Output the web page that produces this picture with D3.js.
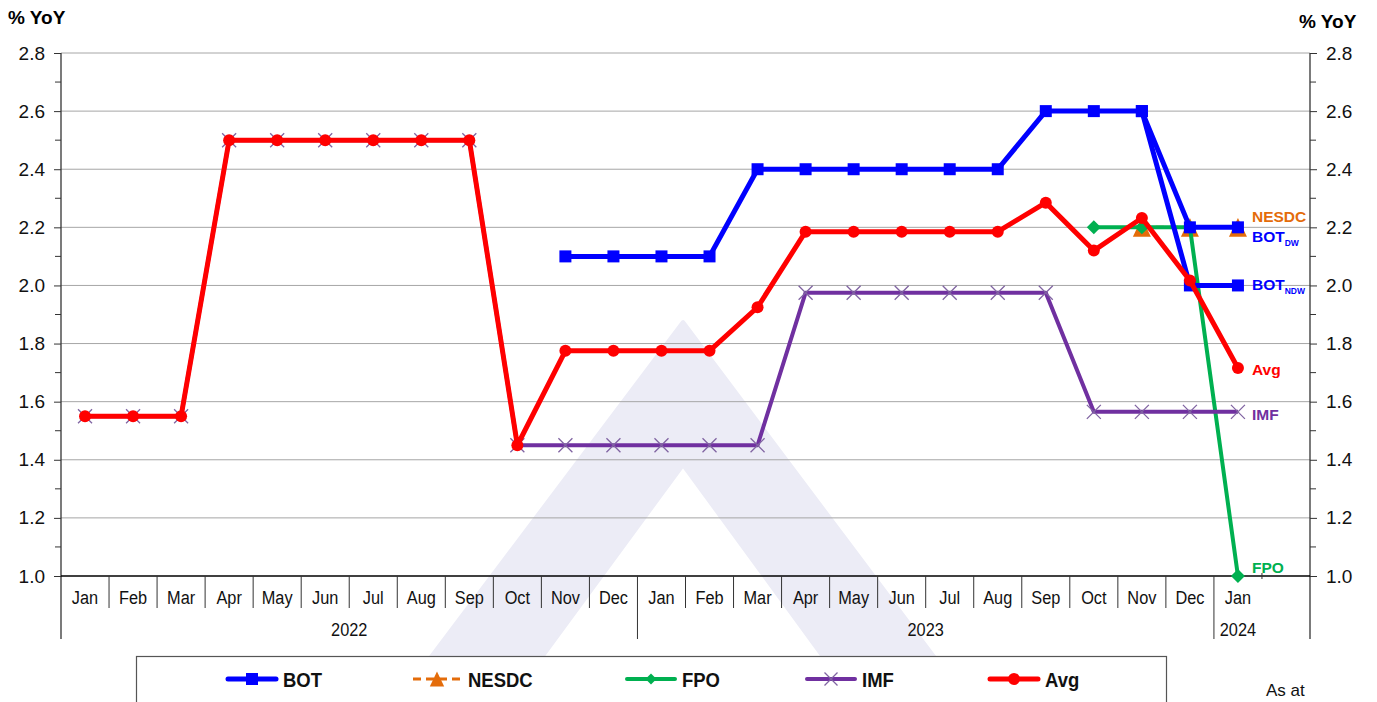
<!DOCTYPE html>
<html>
<head>
<meta charset="utf-8">
<script src="https://cdn.jsdelivr.net/npm/d3@7"></script>
<style>
  body { margin: 0; background: #fff; }
  svg { display: block; font-family: "Liberation Sans", Arial, sans-serif; }
</style>
</head>
<body>
<div id="chart"></div>
<script>
// months Jan 2022 .. Jan 2024 (plus one empty slot at the end)
var months = ["Jan","Feb","Mar","Apr","May","Jun","Jul","Aug","Sep","Oct","Nov","Dec",
              "Jan","Feb","Mar","Apr","May","Jun","Jul","Aug","Sep","Oct","Nov","Dec",
              "Jan",""];
var years = [{label: "2022", from: 0, to: 11}, {label: "2023", from: 12, to: 23}, {label: "2024", from: 24, to: 24}];
var yTicks = [1.0, 1.2, 1.4, 1.6, 1.8, 2.0, 2.2, 2.4, 2.6, 2.8];

var N = null;
var bot    = [N,N,N,N,N,N,N,N,N,N,2.1,2.1, 2.1,2.1,2.4,2.4,2.4,2.4,2.4,2.4,2.6,2.6,2.6,2.2, 2.2];
var botNdw = [N,N,N,N,N,N,N,N,N,N,N,N, N,N,N,N,N,N,N,N,N,N,2.6,2.0, 2.0];
var nesdc  = [N,N,N,N,N,N,N,N,N,N,N,N, N,N,N,N,N,N,N,N,N,N,2.2,2.2, 2.2];
var fpo    = [N,N,N,N,N,N,N,N,N,N,N,N, N,N,N,N,N,N,N,N,N,2.2,2.2,2.2, 1.0];
var imf    = [1.55,1.55,1.55,2.5,2.5,2.5,2.5,2.5,2.5,1.45,1.45,1.45, 1.45,1.45,1.45,1.975,1.975,1.975,1.975,1.975,1.975,1.565,1.565,1.565, 1.565];
var avg    = [1.55,1.55,1.55,2.5,2.5,2.5,2.5,2.5,2.5,1.45,1.775,1.775, 1.775,1.775,1.925,2.185,2.185,2.185,2.185,2.185,2.285,2.12,2.232,2.017, 1.716];

var W = 1377, H = 702;
var pLeft = 61, pRight = 1310, pTop = 53, pBottom = 576;

var svg = d3.select("#chart").append("svg").attr("width", W).attr("height", H);

var x = d3.scaleBand().domain(d3.range(months.length)).range([pLeft, pRight]).padding(0);
var y = d3.scaleLinear().domain([1.0, 2.8]).range([pBottom, pTop]);
var cx = function(i){ return x(i) + x.bandwidth() / 2; };

// watermark
var wm = "M683,322 L397,702 L509,702 L683,465 L856,702 L968,702 Z";
svg.append("path").attr("d", wm).attr("fill", "#ececf6").attr("stroke", "#ececf6").attr("stroke-width", 4).attr("stroke-linejoin", "round");

// gridlines
svg.append("g").selectAll("line").data(yTicks.slice(1)).enter().append("line")
  .attr("x1", pLeft).attr("x2", pRight)
  .attr("y1", function(d){ return y(d); }).attr("y2", function(d){ return y(d); })
  .attr("stroke", "#a6a6a6").attr("stroke-width", 1);

// left and right axes
var yAxisL = d3.axisLeft(y).tickValues(yTicks).tickFormat(d3.format(".1f")).tickSize(7).tickPadding(9);
var yAxisR = d3.axisRight(y).tickValues(yTicks).tickFormat(d3.format(".1f")).tickSize(7).tickPadding(9);
var minor = [1.1, 1.3, 1.5, 1.7, 1.9, 2.1, 2.3, 2.5, 2.7];

function styleAxis(g) {
  g.select(".domain").remove();
  g.selectAll(".tick line").attr("stroke", "#333");
  g.selectAll(".tick text").attr("font-size", 19).attr("fill", "#111")
    .attr("font-family", "Liberation Sans, Arial, sans-serif");
}
svg.append("g").attr("transform", "translate(" + pLeft + ",0)").call(yAxisL).call(styleAxis);
svg.append("g").attr("transform", "translate(" + pRight + ",0)").call(yAxisR).call(styleAxis);

svg.append("g").selectAll("line").data(minor).enter().append("line")
  .attr("x1", pLeft - 6).attr("x2", pLeft).attr("y1", function(d){ return y(d); }).attr("y2", function(d){ return y(d); })
  .attr("stroke", "#333");
svg.append("g").selectAll("line").data(minor).enter().append("line")
  .attr("x1", pRight).attr("x2", pRight + 6).attr("y1", function(d){ return y(d); }).attr("y2", function(d){ return y(d); })
  .attr("stroke", "#333");

svg.append("line").attr("x1", pLeft).attr("x2", pLeft).attr("y1", pTop).attr("y2", 639).attr("stroke", "#333").attr("stroke-width", 1.3);
svg.append("line").attr("x1", pRight).attr("x2", pRight).attr("y1", pTop).attr("y2", 639).attr("stroke", "#333").attr("stroke-width", 1.3);
svg.append("line").attr("x1", pLeft).attr("x2", pRight).attr("y1", pBottom).attr("y2", pBottom).attr("stroke", "#000").attr("stroke-width", 1.5);

// month dividers
svg.append("g").selectAll("line").data(d3.range(1, 25)).enter().append("line")
  .attr("x1", function(i){ return x(i); }).attr("x2", function(i){ return x(i); })
  .attr("y1", pBottom).attr("y2", function(i){ return (i === 12 || i === 24) ? 639 : 608; })
  .attr("stroke", "#333").attr("stroke-width", 1);
svg.append("line").attr("x1", x(25)).attr("x2", x(25)).attr("y1", pBottom - 3).attr("y2", pBottom + 3).attr("stroke", "#333");

// condensed-looking category labels
svg.append("g").selectAll("text").data(months).enter().append("text")
  .attr("transform", function(d, i){ return "translate(" + cx(i) + ",604) scale(0.86,1)"; })
  .attr("text-anchor", "middle").attr("font-size", 19).attr("fill", "#111")
  .text(function(d){ return d; });

svg.append("g").selectAll("text").data(years).enter().append("text")
  .attr("transform", function(d){ return "translate(" + ((x(d.from) + x(d.to) + x.bandwidth()) / 2) + ",636) scale(0.86,1)"; })
  .attr("text-anchor", "middle").attr("font-size", 19).attr("fill", "#111")
  .text(function(d){ return d.label; });

// axis titles
svg.append("text").attr("x", 8).attr("y", 24).attr("font-size", 19).attr("font-weight", "bold").text("% YoY");
svg.append("text").attr("x", 1299).attr("y", 28).attr("font-size", 19).attr("font-weight", "bold").text("% YoY");

// series
var line = d3.line().defined(function(d){ return d !== null; })
  .x(function(d, i){ return cx(i); }).y(function(d){ return y(d); });

function pts(arr) {
  var out = [];
  arr.forEach(function(v, i){ if (v !== null) out.push({i: i, v: v}); });
  return out;
}

function marker(g, type, color, px, py, s) {
  if (type === "square") {
    g.append("rect").attr("x", px - s/2).attr("y", py - s/2).attr("width", s).attr("height", s).attr("fill", color);
  } else if (type === "circle") {
    g.append("circle").attr("cx", px).attr("cy", py).attr("r", s/2).attr("fill", color);
  } else if (type === "diamond") {
    g.append("path").attr("d", "M" + px + "," + (py - s/2) + "L" + (px + s/2) + "," + py + "L" + px + "," + (py + s/2) + "L" + (px - s/2) + "," + py + "Z").attr("fill", color);
  } else if (type === "triangle") {
    g.append("path").attr("d", "M" + px + "," + (py - s*0.62) + "L" + (px + s*0.6) + "," + (py + s*0.62) + "L" + (px - s*0.6) + "," + (py + s*0.62) + "Z").attr("fill", color);
  } else if (type === "x") {
    var r = s/2;
    g.append("path").attr("d", "M" + (px-r) + "," + (py-r) + "L" + (px+r) + "," + (py+r) + "M" + (px-r) + "," + (py+r) + "L" + (px+r) + "," + (py-r))
      .attr("stroke", color).attr("stroke-width", 1.3).attr("fill", "none");
  }
}

var series = [
  {name: "NESDC", data: nesdc, color: "#e46c0a", width: 3, dash: "8,6", mark: "triangle", size: 15},
  {name: "FPO", data: fpo, color: "#00b050", width: 4, dash: null, mark: "diamond", size: 14},
  {name: "BOT", data: bot, color: "#0000ff", width: 5, dash: null, mark: "square", size: 12},
  {name: "BOTNDW", data: botNdw, color: "#0000ff", width: 5, dash: null, mark: "square", size: 12},
  {name: "IMF", data: imf, color: "#7030a0", width: 4, dash: null, mark: "x", size: 14},
  {name: "Avg", data: avg, color: "#ff0000", width: 5, dash: null, mark: "circle", size: 12}
];

series.forEach(function(s){
  var g = svg.append("g");
  g.append("path").datum(s.data).attr("d", line).attr("fill", "none")
    .attr("stroke", s.color).attr("stroke-width", s.width)
    .attr("stroke-dasharray", s.dash).attr("stroke-linejoin", "round");
  pts(s.data).forEach(function(p){
    marker(g, s.mark, s.name === "IMF" ? "#8064a2" : s.color, cx(p.i), y(p.v), s.size);
  });
});

// end labels
var lx = cx(24) + 14;
function endLabel(txt, sub, color, yy) {
  var t = svg.append("text").attr("x", lx).attr("y", yy).attr("font-size", 15.5)
    .attr("font-weight", "bold").attr("fill", color).text(txt);
  if (sub) t.append("tspan").attr("font-size", 8.5).attr("dy", 4).text(sub);
}
endLabel("NESDC", null, "#e46c0a", 222);
endLabel("BOT", "DW", "#0000ff", 242);
endLabel("BOT", "NDW", "#0000ff", 290);
endLabel("Avg", null, "#ff0000", 375);
endLabel("IMF", null, "#7030a0", 420);
endLabel("FPO", null, "#00b050", 573);

// legend
svg.append("rect").attr("x", 136.5).attr("y", 656.5).attr("width", 1030).attr("height", 60)
  .attr("fill", "#fff").attr("stroke", "#555").attr("stroke-width", 1.2);

var legendItems = [
  {name: "BOT", color: "#0000ff", mark: "square", dash: null, x0: 228, width: 5, size: 12},
  {name: "NESDC", color: "#e46c0a", mark: "triangle", dash: "8,5", x0: 413, width: 3, size: 12},
  {name: "FPO", color: "#00b050", mark: "diamond", dash: null, x0: 627, width: 4, size: 11},
  {name: "IMF", color: "#7030a0", mark: "x", dash: null, x0: 807, width: 4, size: 13},
  {name: "Avg", color: "#ff0000", mark: "circle", dash: null, x0: 990, width: 5, size: 12}
];
var ly = 679;
legendItems.forEach(function(d){
  var g = svg.append("g");
  g.append("line").attr("x1", d.x0).attr("x2", d.x0 + 48).attr("y1", ly).attr("y2", ly)
    .attr("stroke", d.color).attr("stroke-width", d.width).attr("stroke-dasharray", d.dash).attr("stroke-linecap", d.dash ? "butt" : "round");
  marker(g, d.mark, d.mark === "x" ? "#8064a2" : d.color, d.x0 + 24, ly, d.size);
  g.append("text").attr("transform", "translate(" + (d.x0 + 55) + "," + (ly + 8) + ") scale(0.88,1)")
    .attr("font-size", 21).attr("font-weight", "bold").attr("fill", "#111").text(d.name);
});

svg.append("text").attr("x", 1266).attr("y", 696).attr("font-size", 17).attr("fill", "#111").text("As at");
</script>
</body>
</html>
